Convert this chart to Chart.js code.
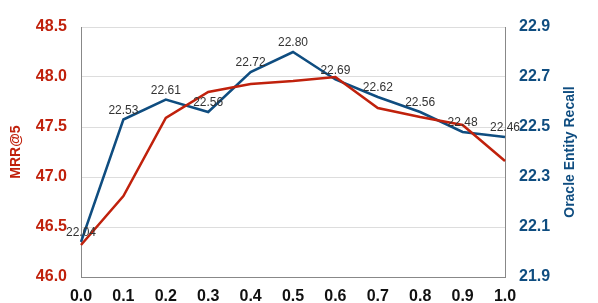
<!DOCTYPE html>
<html>
<head>
<meta charset="utf-8">
<script src="https://cdn.jsdelivr.net/npm/chart.js@4"></script>
<style>
  html, body { margin: 0; padding: 0; background: #fff; }
  #wrap { width: 598px; height: 303px; }
</style>
</head>
<body>
<div id="wrap"><canvas id="chart"></canvas></div>
<script>
const xLabels = ['0.0', '0.1', '0.2', '0.3', '0.4', '0.5', '0.6', '0.7', '0.8', '0.9', '1.0'];
const mrrValues = [46.32, 46.81, 47.59, 47.85, 47.93, 47.96, 48.00, 47.69, 47.60, 47.52, 47.16];
const recallValues = [22.04, 22.53, 22.61, 22.56, 22.72, 22.80, 22.69, 22.62, 22.56, 22.48, 22.46];

const RED = '#C0210C';
const BLUE = '#0F4D80';
const FONT = '"Liberation Sans", Arial, sans-serif';

// recall numbers above the blue points, plus the right title read bottom-to-top
const extras = {
    id: 'extras',
    afterDatasetsDraw(chart) {
        const ctx = chart.ctx;
        const meta = chart.getDatasetMeta(1);
        ctx.save();
        ctx.font = '12px ' + FONT;
        ctx.fillStyle = '#333';
        ctx.textAlign = 'center';
        ctx.textBaseline = 'bottom';
        meta.data.forEach((pt, i) => {
            ctx.fillText(recallValues[i].toFixed(2), pt.x, pt.y - 3);
        });
        ctx.restore();
    },
    afterDraw(chart) {
        const ctx = chart.ctx;
        const area = chart.chartArea;
        ctx.save();
        ctx.translate(570, (area.top + area.bottom) / 2);
        ctx.rotate(-Math.PI / 2);
        ctx.font = 'bold 14px ' + FONT;
        ctx.fillStyle = BLUE;
        ctx.textAlign = 'center';
        ctx.textBaseline = 'middle';
        ctx.fillText('Oracle Entity Recall', 0, 0);
        ctx.restore();
    }
};

function createChart() {
    const ctx = document.getElementById('chart');
    new Chart(ctx, {
        type: 'line',
        data: {
            labels: xLabels,
            datasets: [{
                label: 'MRR@5',
                data: mrrValues,
                borderColor: RED,
                borderWidth: 2.5,
                pointRadius: 0,
                tension: 0,
                yAxisID: 'y'
            }, {
                label: 'Oracle Entity Recall',
                data: recallValues,
                borderColor: BLUE,
                borderWidth: 2.5,
                pointRadius: 0,
                tension: 0,
                yAxisID: 'y1'
            }]
        },
        options: {
            responsive: true,
            maintainAspectRatio: false,
            animation: false,
            layout: { padding: { top: 27, left: 0, right: 0, bottom: 0 } },
            plugins: {
                legend: { display: false },
                tooltip: { enabled: false }
            },
            scales: {
                x: {
                    grid: { display: false, drawTicks: false },
                    border: { color: '#888' },
                    ticks: {
                        padding: 10,
                        color: '#111',
                        font: { family: FONT, size: 16, weight: 'bold' },
                        maxRotation: 0
                    },
                    afterFit: s => { s.height = 26; }
                },
                y: {
                    position: 'left',
                    min: 46,
                    max: 48.5,
                    grid: { color: '#ddd', drawTicks: false },
                    border: { color: '#888' },
                    ticks: {
                        stepSize: 0.5,
                        padding: 14,
                        color: RED,
                        font: { family: FONT, size: 16, weight: 'bold' },
                        callback: v => v.toFixed(1)
                    },
                    title: {
                        display: true,
                        text: 'MRR@5',
                        color: RED,
                        padding: { top: 8, bottom: 0 },
                        font: { family: FONT, size: 14, weight: 'bold' }
                    },
                    afterFit: s => { s.width = 81; }
                },
                y1: {
                    position: 'right',
                    min: 21.9,
                    max: 22.9,
                    grid: { drawOnChartArea: false, drawTicks: false },
                    border: { color: '#888' },
                    ticks: {
                        stepSize: 0.2,
                        padding: 14,
                        color: BLUE,
                        font: { family: FONT, size: 16, weight: 'bold' },
                        callback: v => v.toFixed(1)
                    },
                    afterFit: s => { s.width = 93; }
                }
            }
        },
        plugins: [extras]
    });
}

document.addEventListener('DOMContentLoaded', () => {
    createChart();
});
</script>
</body>
</html>
